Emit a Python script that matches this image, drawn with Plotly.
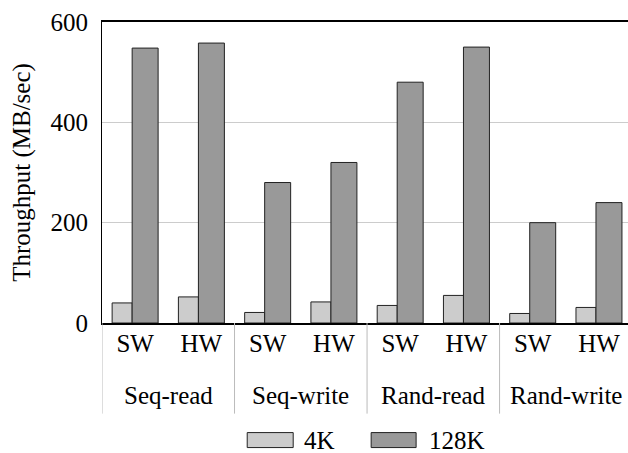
import numpy as np
import plotly.graph_objects as go

# ---- data ----
groups = ["Seq-read", "Seq-write", "Rand-read", "Rand-write"]
impls = ["SW", "HW"]
series_names = ["4K", "128K"]
vals_4k = [40, 52, 21, 42, 35, 55, 19, 31]
vals_128k = [548, 558, 280, 320, 480, 550, 200, 240]
y_ticks = [0, 200, 400, 600]

# ---- layout constants ----
W, H = 628, 453
L, T = 101.7, 22
B_PX = 323.3
R_PX = 628
FONT = "Liberation Serif, Times New Roman, serif"
FS = 25
fill_colors = ["#cccccc", "#999999"]
edge = "#222222"

sub_labels = [s for g in groups for s in impls]
xpos = np.arange(len(sub_labels))
unit = 66.3
xmax = -0.5 + (R_PX - L) / unit

def px2paper_x(px):
    return (px - L) / (R_PX - L)

def px2paper_y(py):
    return (B_PX - py) / (B_PX - T)

fig = go.Figure()
fig.add_trace(go.Bar(x=xpos, y=vals_4k, name=series_names[0], offset=-0.347, width=0.302,
                     marker=dict(color=fill_colors[0], line=dict(color=edge, width=1)),
                     showlegend=False))
fig.add_trace(go.Bar(x=xpos, y=vals_128k, name=series_names[1], offset=-0.045, width=0.392,
                     marker=dict(color=fill_colors[1], line=dict(color=edge, width=1)),
                     showlegend=False))

shapes = []
annotations = []
# group dividers
for k in range(len(groups) + 1):
    xb = -0.5 + k * len(impls)
    shapes.append(dict(type="line", xref="x", yref="paper", x0=xb, x1=xb,
                       y0=0, y1=px2paper_y(414), line=dict(color="#bbbbbb", width=1)))
# group labels
for k, g in enumerate(groups):
    xc = k * len(impls) + (len(impls) - 1) / 2
    annotations.append(dict(text=g, xref="x", yref="paper", x=xc, y=px2paper_y(396),
                            showarrow=False, xanchor="center", yanchor="middle",
                            font=dict(family=FONT, size=FS, color="black")))
# legend
leg = [(247, 293, 302), (371, 416, 427)]
for (x0, x1, tx), nm, col in zip(leg, series_names, fill_colors):
    shapes.append(dict(type="rect", xref="paper", yref="paper",
                       x0=px2paper_x(x0), x1=px2paper_x(x1),
                       y0=px2paper_y(448), y1=px2paper_y(433),
                       fillcolor=col, line=dict(color=edge, width=1)))
    annotations.append(dict(text=nm, xref="paper", yref="paper", x=px2paper_x(tx),
                            y=px2paper_y(441), showarrow=False, xanchor="left", yanchor="middle",
                            font=dict(family=FONT, size=FS, color="black")))

fig.update_layout(
    width=W, height=H,
    margin=dict(l=L, r=W - R_PX, t=T, b=H - B_PX, autoexpand=False),
    paper_bgcolor="white", plot_bgcolor="white",
    barmode="overlay",
    font=dict(family=FONT, size=FS, color="black"),
    shapes=shapes, annotations=annotations,
    showlegend=False,
)
fig.update_xaxes(range=[-0.5, xmax], tickmode="array", tickvals=xpos, ticktext=sub_labels,
                 showline=True, linecolor="black", linewidth=1.5, mirror=True,
                 showgrid=False, ticks="", zeroline=False, ticklabelstandoff=-3,
                 automargin=False,
                 tickfont=dict(family=FONT, size=FS, color="black"))
fig.update_yaxes(range=[0, 600], tickmode="array", tickvals=y_ticks,
                 showline=True, linecolor="black", linewidth=1,
                 showgrid=True, gridcolor="#cccccc", gridwidth=1, zeroline=False,
                 ticks="", ticklabelstandoff=8, automargin=False,
                 title=dict(text="Throughput (MB/sec)", standoff=12,
                            font=dict(family=FONT, size=FS, color="black")),
                 tickfont=dict(family=FONT, size=FS, color="black"))

fig.write_html("out.html", config={"displayModeBar": False},
               post_script="document.body.style.margin='0';document.body.style.padding='0';")
